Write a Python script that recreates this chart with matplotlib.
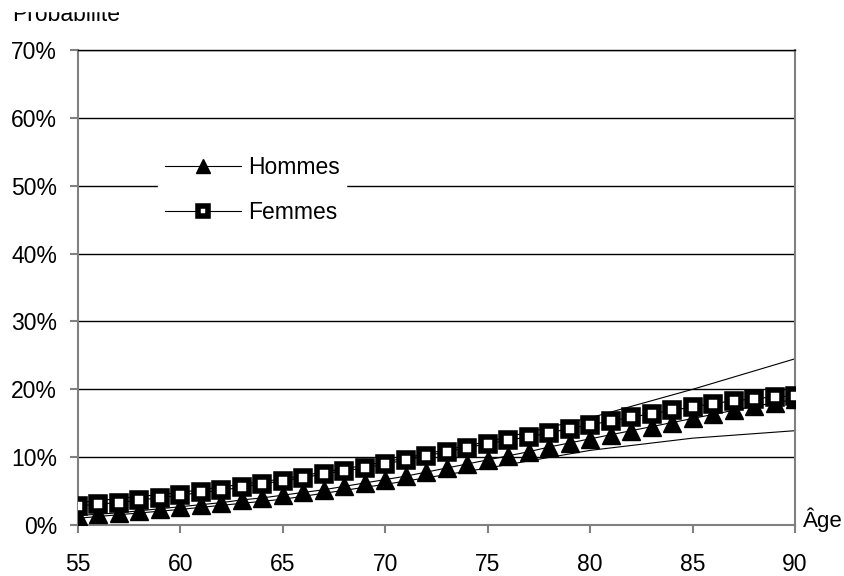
import matplotlib.pyplot as plt
from matplotlib.patches import Rectangle

plt.rcParams['font.family'] = ['Liberation Sans', 'DejaVu Sans']

# données
ages = list(range(55, 91))
hommes = [1.4, 1.6, 1.8, 2.1, 2.4, 2.7, 3.0, 3.3, 3.7, 4.0,
          4.4, 4.8, 5.2, 5.7, 6.2, 6.7, 7.2, 7.8, 8.4, 9.0,
          9.6, 10.2, 10.8, 11.5, 12.1, 12.7, 13.3, 13.9, 14.5, 15.1,
          15.7, 16.3, 16.9, 17.5, 18.0, 18.5]
femmes = [2.8, 3.1, 3.3, 3.7, 4.0, 4.4, 4.8, 5.1, 5.6, 6.1,
          6.5, 7.0, 7.5, 8.0, 8.4, 9.0, 9.6, 10.2, 10.8, 11.4,
          12.0, 12.5, 13.0, 13.6, 14.2, 14.8, 15.3, 15.9, 16.4, 16.9,
          17.4, 17.9, 18.3, 18.6, 18.9, 19.0]

# bornes de l'intervalle
band_ages = [55, 60, 65, 70, 75, 80, 85, 90]
band_haut = [3.3, 4.8, 6.8, 9.3, 12.3, 15.8, 20.0, 24.5]
band_bas = [1.0, 2.3, 3.8, 6.0, 8.4, 11.0, 12.8, 13.9]

y_ticks = [0, 10, 20, 30, 40, 50, 60, 70]
x_ticks = [55, 60, 65, 70, 75, 80, 85, 90]

fig = plt.figure(figsize=(8.44, 5.76), dpi=100)
ax = fig.add_axes([0.0924, 0.0885, 0.8496, 0.8247])

ax.plot(band_ages, band_haut, color='black', lw=0.8, zorder=2)
ax.plot(band_ages, band_bas, color='black', lw=0.8, zorder=2)

ax.plot(ages, hommes, color='black', lw=0.8, marker='^', ms=13,
        mfc='black', mec='black', label='Hommes', zorder=3)
ax.plot(ages, femmes, color='black', lw=0.8, marker='s', ms=9.5,
        mfc='white', mec='black', mew=4, label='Femmes', zorder=4)

ax.set_xlim(55, 90)
ax.set_ylim(0, 70)
ax.set_xticks(x_ticks)
ax.set_yticks(y_ticks)
ax.set_yticklabels([f'{v}%' for v in y_ticks])
ax.yaxis.grid(True, color='black', lw=1)
ax.set_axisbelow(True)

for s in ['left', 'bottom', 'right']:
    ax.spines[s].set_color('#808080')
    ax.spines[s].set_linewidth(1.5)
ax.spines['top'].set_color('black')
ax.spines['top'].set_linewidth(1)

ax.tick_params(axis='both', labelsize=16.5, color='#808080', width=1.5)
ax.tick_params(axis='y', length=6, pad=9)
ax.tick_params(axis='x', length=6, pad=14)

leg = ax.legend(loc='center left', bbox_to_anchor=(0.112, 0.705),
                frameon=True, fontsize=16.5, handlelength=3.3,
                handletextpad=0.3, labelspacing=0.95, borderpad=0.3,
                borderaxespad=0, fancybox=False, markerscale=0.8)
leg.get_frame().set_edgecolor('white')
leg.get_frame().set_facecolor('white')
leg.get_frame().set_alpha(1)

fig.text(0.951, 0.097, 'Âge', fontsize=16, ha='left', va='center')
fig.text(0.014, 1 - 21 / 576, 'Probabilité', fontsize=16.5,
         ha='left', va='baseline')
fig.patches.append(Rectangle((0, 1 - 11 / 576), 1, 11 / 576,
                             transform=fig.transFigure, color='white',
                             zorder=10))

fig.savefig('out.png', dpi=100)
